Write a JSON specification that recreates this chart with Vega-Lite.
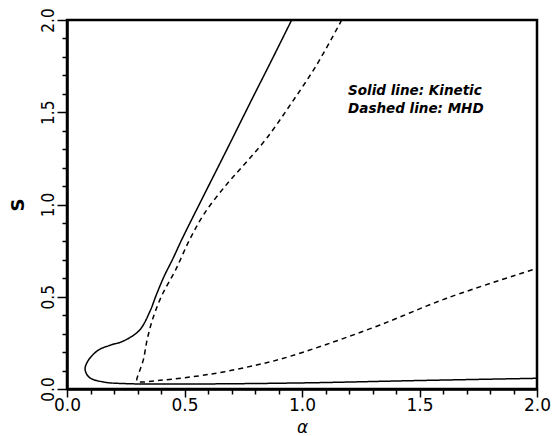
{
  "$schema": "https://vega.github.io/schema/vega-lite/v6.json",
  "autosize": "none",
  "width": 470,
  "height": 369,
  "padding": {"left": 67, "top": 20, "right": 19, "bottom": 47},
  "background": "white",
  "config": {
    "view": {"stroke": "black", "strokeWidth": 2.5},
    "axis": {
      "domainColor": "black", "domainWidth": 2.5, "tickColor": "black", "tickWidth": 1.5,
      "grid": false, "labelColor": "black", "titleColor": "black",
      "labelFont": "DejaVu Sans", "labelFontSize": 17
    }
  },
  "datasets": {
    "curves": [
      {"series": "Kinetic", "o": 1, "a": 0.956, "s": 2.0},
      {"series": "Kinetic", "o": 2, "a": 0.87, "s": 1.78},
      {"series": "Kinetic", "o": 3, "a": 0.786, "s": 1.568},
      {"series": "Kinetic", "o": 4, "a": 0.68, "s": 1.297},
      {"series": "Kinetic", "o": 5, "a": 0.58, "s": 1.044},
      {"series": "Kinetic", "o": 6, "a": 0.488, "s": 0.809},
      {"series": "Kinetic", "o": 7, "a": 0.452, "s": 0.71},
      {"series": "Kinetic", "o": 8, "a": 0.413, "s": 0.61},
      {"series": "Kinetic", "o": 9, "a": 0.38, "s": 0.51},
      {"series": "Kinetic", "o": 10, "a": 0.353, "s": 0.421},
      {"series": "Kinetic", "o": 11, "a": 0.308, "s": 0.318},
      {"series": "Kinetic", "o": 12, "a": 0.24, "s": 0.26},
      {"series": "Kinetic", "o": 13, "a": 0.183, "s": 0.237},
      {"series": "Kinetic", "o": 14, "a": 0.135, "s": 0.212},
      {"series": "Kinetic", "o": 15, "a": 0.093, "s": 0.16},
      {"series": "Kinetic", "o": 16, "a": 0.077, "s": 0.108},
      {"series": "Kinetic", "o": 17, "a": 0.095, "s": 0.063},
      {"series": "Kinetic", "o": 18, "a": 0.155, "s": 0.038},
      {"series": "Kinetic", "o": 19, "a": 0.254, "s": 0.029},
      {"series": "Kinetic", "o": 20, "a": 0.5, "s": 0.027},
      {"series": "Kinetic", "o": 21, "a": 1.0, "s": 0.033},
      {"series": "Kinetic", "o": 22, "a": 1.5, "s": 0.046},
      {"series": "Kinetic", "o": 23, "a": 2.0, "s": 0.058},
      {"series": "MHD", "o": 1, "a": 1.169, "s": 2.0},
      {"series": "MHD", "o": 2, "a": 1.063, "s": 1.758},
      {"series": "MHD", "o": 3, "a": 0.95, "s": 1.54},
      {"series": "MHD", "o": 4, "a": 0.85, "s": 1.36},
      {"series": "MHD", "o": 5, "a": 0.76, "s": 1.225},
      {"series": "MHD", "o": 6, "a": 0.68, "s": 1.11},
      {"series": "MHD", "o": 7, "a": 0.585, "s": 0.952},
      {"series": "MHD", "o": 8, "a": 0.522, "s": 0.81},
      {"series": "MHD", "o": 9, "a": 0.462, "s": 0.645},
      {"series": "MHD", "o": 10, "a": 0.405, "s": 0.511},
      {"series": "MHD", "o": 11, "a": 0.366, "s": 0.385},
      {"series": "MHD", "o": 12, "a": 0.341, "s": 0.267},
      {"series": "MHD", "o": 13, "a": 0.325, "s": 0.159},
      {"series": "MHD", "o": 14, "a": 0.306, "s": 0.087},
      {"series": "MHD", "o": 15, "a": 0.297, "s": 0.052},
      {"series": "MHD", "o": 16, "a": 0.3, "s": 0.041},
      {"series": "MHD", "o": 17, "a": 0.396, "s": 0.047},
      {"series": "MHD", "o": 18, "a": 0.609, "s": 0.08},
      {"series": "MHD", "o": 19, "a": 0.807, "s": 0.13},
      {"series": "MHD", "o": 20, "a": 0.906, "s": 0.161},
      {"series": "MHD", "o": 21, "a": 1.1, "s": 0.24},
      {"series": "MHD", "o": 22, "a": 1.332, "s": 0.347},
      {"series": "MHD", "o": 23, "a": 1.616, "s": 0.492},
      {"series": "MHD", "o": 24, "a": 2.0, "s": 0.654}
    ],
    "notes": [
      {"a": 1.196, "s": 1.617, "label": "Solid line: Kinetic"},
      {"a": 1.196, "s": 1.519, "label": "Dashed line: MHD"}
    ]
  },
  "layer": [
    {
      "data": {"name": "curves"},
      "mark": {"type": "line", "color": "black", "strokeWidth": 1.5, "clip": true, "interpolate": "catmull-rom"},
      "encoding": {
        "x": {
          "field": "a", "type": "quantitative",
          "scale": {"domain": [0, 2], "nice": false, "zero": false},
          "axis": {
            "tickCount": 20,
            "labelExpr": "abs(round(datum.value*2) - datum.value*2) < 0.01 ? format(datum.value, '.1f') : ''",
            "tickSize": {"condition": {"test": "abs(round(datum.value*2) - datum.value*2) < 0.01", "value": 8}, "value": 5},
            "labelPadding": 0, "labelBaseline": "top", "labelFlush": false, "labelOverlap": false,
            "title": "α", "titleFont": "DejaVu Sans", "titleFontSize": 17, "titleFontStyle": "italic",
            "titleFontWeight": "normal", "titleBaseline": "alphabetic", "titleY": 43
          }
        },
        "y": {
          "field": "s", "type": "quantitative",
          "scale": {"domain": [0, 2], "nice": false, "zero": false},
          "axis": {
            "tickCount": 20,
            "labelExpr": "abs(round(datum.value*2) - datum.value*2) < 0.01 ? format(datum.value, '.1f') : ''",
            "tickSize": {"condition": {"test": "abs(round(datum.value*2) - datum.value*2) < 0.01", "value": 10}, "value": 5},
            "labelAngle": 270, "labelAlign": "center", "labelBaseline": "alphabetic",
            "labelFont": "DejaVu Sans Condensed, DejaVu Sans", "labelPadding": 4,
            "labelFlush": false, "labelOverlap": false,
            "title": "S", "titleFont": "DejaVu Sans", "titleFontSize": 18, "titleFontWeight": "bold", "titlePadding": 12
          }
        },
        "detail": {"field": "series"},
        "order": {"field": "o", "type": "quantitative"},
        "strokeDash": {
          "field": "series", "type": "nominal",
          "scale": {"domain": ["Kinetic", "MHD"], "range": [[1, 0], [5, 4]]},
          "legend": null
        }
      }
    },
    {
      "data": {"name": "notes"},
      "mark": {"type": "text", "align": "left", "baseline": "middle", "font": "DejaVu Sans", "fontSize": 13.5, "fontStyle": "italic", "fontWeight": "bold", "color": "black"},
      "encoding": {
        "x": {"field": "a", "type": "quantitative"},
        "y": {"field": "s", "type": "quantitative"},
        "text": {"field": "label"}
      }
    }
  ]
}
